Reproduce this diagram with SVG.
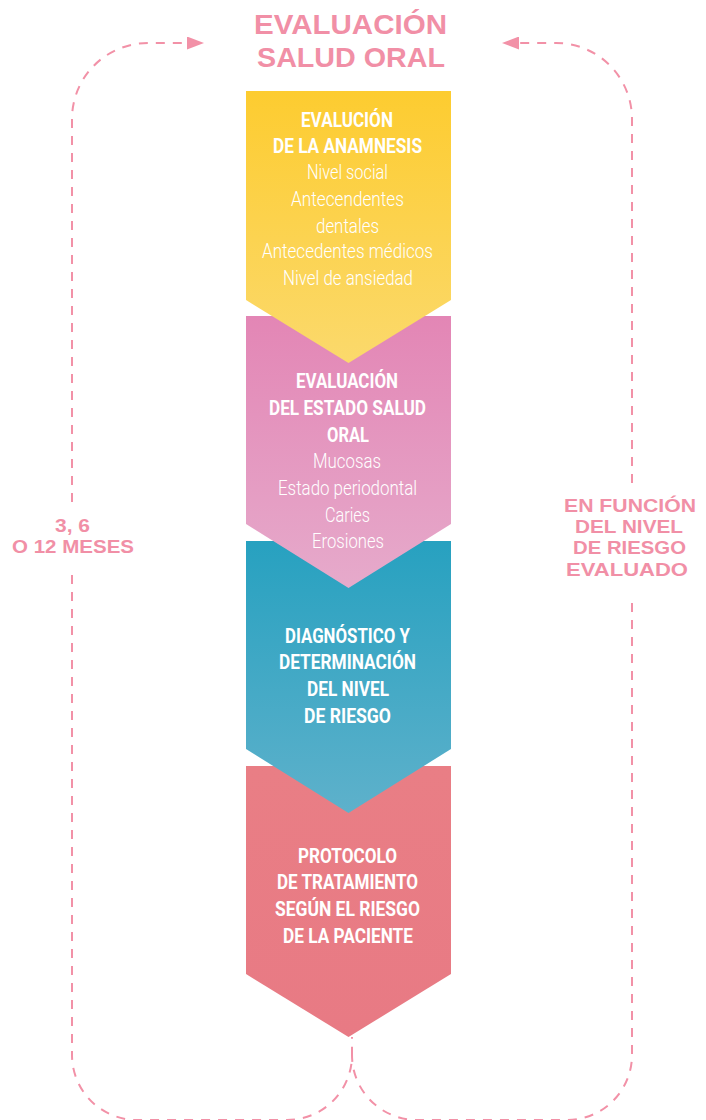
<svg xmlns="http://www.w3.org/2000/svg" width="706" height="1120" viewBox="0 0 706 1120">
<style>
.title{font-family:"Liberation Sans",Arial,sans-serif;font-weight:700;font-size:28px;fill:#F18FA6;text-anchor:middle}
.side{font-family:"Liberation Sans",Arial,sans-serif;font-weight:700;font-size:18.5px;fill:#F18FA6;text-anchor:middle}
.h{font-family:Roboto,"Liberation Sans",sans-serif;font-weight:700;font-size:21px;fill:#FFFFFF;text-anchor:middle}
.l{font-family:Roboto,"Liberation Sans",sans-serif;font-weight:300;font-size:21px;fill:#FFFFFF;text-anchor:middle}
.dash{fill:none;stroke:#F291A7;stroke-width:2;stroke-dasharray:9 8}
</style>
<defs>
<linearGradient id="gy" x1="0" y1="0" x2="0" y2="1"><stop offset="0" stop-color="#FDCC30"/><stop offset="1" stop-color="#FBD96C"/></linearGradient>
<linearGradient id="gp" x1="0" y1="0" x2="0" y2="1"><stop offset="0" stop-color="#E386B5"/><stop offset="1" stop-color="#E6AACB"/></linearGradient>
<linearGradient id="gb" x1="0" y1="0" x2="0" y2="1"><stop offset="0" stop-color="#27A1C0"/><stop offset="1" stop-color="#5EB1CB"/></linearGradient>
<linearGradient id="gr" x1="0" y1="0" x2="0" y2="1"><stop offset="0" stop-color="#E97E85"/><stop offset="1" stop-color="#E87A84"/></linearGradient>
<marker id="arr" markerUnits="userSpaceOnUse" markerWidth="18" markerHeight="13" viewBox="0 0 18 13" refX="1" refY="6.5" orient="auto">
<path d="M0,0 L17,6.5 L0,13 Z" fill="#F291A7"/>
</marker>
</defs>

<g id="title">
<text class="title" x="350.5" y="34" textLength="193" lengthAdjust="spacingAndGlyphs">EVALUACIÓN</text>
<text class="title" x="351" y="67" textLength="188" lengthAdjust="spacingAndGlyphs">SALUD ORAL</text>
</g>

<g id="connectors">
<path class="dash" d="M72,502 L72,119 A76,76 0 0 1 148,43 L188,43" marker-end="url(#arr)"/>
<path class="dash" d="M632,483 L632,119 A76,76 0 0 0 556,43 L518,43" marker-end="url(#arr)"/>
<path class="dash" d="M72,575 L72,1055 A65,65 0 0 0 137,1120 L287,1120 A65,65 0 0 0 352,1055 L352,1037"/>
<path class="dash" d="M632,603 L632,1055 A65,65 0 0 1 567,1120 L417,1120 A65,65 0 0 1 352,1055"/>
</g>

<g id="label-left">
<text class="side" x="72.5" y="532" textLength="35" lengthAdjust="spacingAndGlyphs">3, 6</text>
<text class="side" x="73" y="553" textLength="122" lengthAdjust="spacingAndGlyphs">O 12 MESES</text>
</g>

<g id="label-right">
<text class="side" x="630" y="512" textLength="132" lengthAdjust="spacingAndGlyphs">EN FUNCIÓN</text>
<text class="side" x="629" y="533" textLength="108" lengthAdjust="spacingAndGlyphs">DEL NIVEL</text>
<text class="side" x="629.5" y="554" textLength="113" lengthAdjust="spacingAndGlyphs">DE RIESGO</text>
<text class="side" x="627" y="576" textLength="122" lengthAdjust="spacingAndGlyphs">EVALUADO</text>
</g>

<g id="node-protocolo">
<polygon points="246,766 451,766 451,974 348.5,1037 246,974" fill="url(#gr)"/>
<text class="h" x="347.5" y="863" textLength="99" lengthAdjust="spacingAndGlyphs">PROTOCOLO</text>
<text class="h" x="347.5" y="889" textLength="141" lengthAdjust="spacingAndGlyphs">DE TRATAMIENTO</text>
<text class="h" x="347.5" y="916" textLength="145" lengthAdjust="spacingAndGlyphs">SEGÚN EL RIESGO</text>
<text class="h" x="348" y="943" textLength="130" lengthAdjust="spacingAndGlyphs">DE LA PACIENTE</text>
</g>

<g id="node-diagnostico">
<polygon points="246,541 451,541 451,749 348.5,813 246,749" fill="url(#gb)"/>
<text class="h" x="347.5" y="643" textLength="125" lengthAdjust="spacingAndGlyphs">DIAGNÓSTICO Y</text>
<text class="h" x="347.5" y="669" textLength="137" lengthAdjust="spacingAndGlyphs">DETERMINACIÓN</text>
<text class="h" x="348" y="696" textLength="82" lengthAdjust="spacingAndGlyphs">DEL NIVEL</text>
<text class="h" x="347.5" y="723" textLength="87" lengthAdjust="spacingAndGlyphs">DE RIESGO</text>
</g>

<g id="node-salud-oral">
<polygon points="246,316 451,316 451,524 348.5,588 246,524" fill="url(#gp)"/>
<text class="h" x="347" y="388" textLength="102" lengthAdjust="spacingAndGlyphs">EVALUACIÓN</text>
<text class="h" x="347.5" y="415" textLength="157" lengthAdjust="spacingAndGlyphs">DEL ESTADO SALUD</text>
<text class="h" x="348" y="442" textLength="42" lengthAdjust="spacingAndGlyphs">ORAL</text>
<text class="l" x="347" y="468" textLength="68" lengthAdjust="spacingAndGlyphs">Mucosas</text>
<text class="l" x="347.5" y="495" textLength="139" lengthAdjust="spacingAndGlyphs">Estado periodontal</text>
<text class="l" x="347.5" y="522" textLength="45" lengthAdjust="spacingAndGlyphs">Caries</text>
<text class="l" x="348" y="548" textLength="72" lengthAdjust="spacingAndGlyphs">Erosiones</text>
</g>

<g id="node-anamnesis">
<polygon points="246,91 451,91 451,300 348.5,363 246,300" fill="url(#gy)"/>
<text class="h" x="347" y="127" textLength="92" lengthAdjust="spacingAndGlyphs">EVALUCIÓN</text>
<text class="h" x="347.5" y="153" textLength="149" lengthAdjust="spacingAndGlyphs">DE LA ANAMNESIS</text>
<text class="l" x="347.5" y="179" textLength="81" lengthAdjust="spacingAndGlyphs">Nivel social</text>
<text class="l" x="347.5" y="206" textLength="113" lengthAdjust="spacingAndGlyphs">Antecendentes</text>
<text class="l" x="347.5" y="233" textLength="63" lengthAdjust="spacingAndGlyphs">dentales</text>
<text class="l" x="347.5" y="258" textLength="171" lengthAdjust="spacingAndGlyphs">Antecedentes médicos</text>
<text class="l" x="348" y="285" textLength="130" lengthAdjust="spacingAndGlyphs">Nivel de ansiedad</text>
</g>
</svg>
